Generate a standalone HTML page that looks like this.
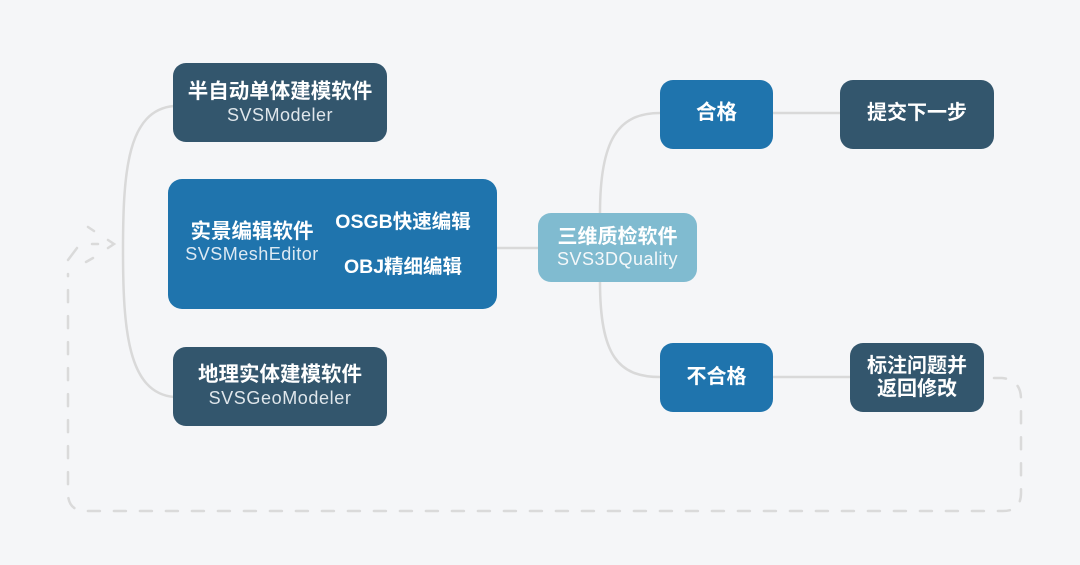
<!DOCTYPE html>
<html><head><meta charset="utf-8"><style>
html,body{margin:0;padding:0;}
body{width:1080px;height:565px;background:#f5f6f8;position:relative;overflow:hidden;font-family:"Liberation Sans","Noto Sans CJK SC",sans-serif;}
svg{position:absolute;left:0;top:0;}
.b{position:absolute;box-sizing:border-box;color:#fff;text-align:center;}
.dk{background:#33566d;border-radius:13px;}
.bl{background:#1f74ad;border-radius:13px;}
.lb{background:#80bbd0;border-radius:13px;}
.t{position:absolute;left:0;right:0;text-align:center;white-space:nowrap;}
.cn{font-family:"Liberation Sans","Noto Sans CJK SC",sans-serif;font-weight:bold;font-size:20.5px;line-height:24px;color:#fff;}
.en{font-size:18px;line-height:22px;color:#dfe6eb;letter-spacing:0.5px;}
</style></head><body>
<svg width="1080" height="565" viewBox="0 0 1080 565">
  <g fill="none" stroke="#d9d9d9" stroke-width="2.5" stroke-linecap="round">
    <path d="M174,106 C128,110 123,170 123,250 C123,330 128,393 174,397"/>
    <path d="M497,248 L538,248"/>
    <path d="M600,213 C600,140 618,113 660,113"/>
    <path d="M600,282 C600,355 618,377 660,377"/>
    <path d="M773,113 L840,113"/>
    <path d="M773,377 L850,377"/>
  </g>
  <g fill="none" stroke="#dadada" stroke-width="2.5" stroke-linecap="round">
    <path d="M994,378 L1002,378 Q1021,380 1021,399 L1021,493 Q1021,511 1003,511 L86,511 Q68,511 68,493 L68,274" stroke-dasharray="12 14"/>
    <path d="M68,260 L77,248"/>
    <path d="M88,227 L94,231"/>
    <path d="M86,262 L93,258"/>
    <path d="M92,244 L98,244"/>
    <path d="M108,240 L114,244 L108,248"/>
  </g>
</svg>

<div class="b dk" style="left:173px;top:63px;width:214px;height:79px;">
  <div class="t cn" style="top:17px;">半自动单体建模软件</div>
  <div class="t en" style="top:41px;">SVSModeler</div>
</div>

<div class="b bl" style="left:168px;top:179px;width:329px;height:130px;border-radius:14px;">
  <div class="t cn" style="left:0;right:auto;width:168px;top:41px;">实景编辑软件</div>
  <div class="t en" style="left:0;right:auto;width:168px;top:64px;color:#dce9f3;">SVSMeshEditor</div>
  <div class="t cn" style="left:160px;right:auto;width:150px;top:31px;font-size:19.5px;">OSGB快速编辑</div>
  <div class="t cn" style="left:160px;right:auto;width:150px;top:76px;font-size:19.5px;">OBJ精细编辑</div>
</div>

<div class="b dk" style="left:173px;top:347px;width:214px;height:79px;">
  <div class="t cn" style="top:16px;">地理实体建模软件</div>
  <div class="t en" style="top:40px;letter-spacing:0.6px;">SVSGeoModeler</div>
</div>

<div class="b lb" style="left:538px;top:213px;width:159px;height:69px;">
  <div class="t cn" style="top:12px;font-size:20px;">三维质检软件</div>
  <div class="t en" style="top:35px;color:#f4f8fa;">SVS3DQuality</div>
</div>

<div class="b bl" style="left:660px;top:80px;width:113px;height:69px;">
  <div class="t cn" style="top:21px;">合格</div>
</div>

<div class="b dk" style="left:840px;top:80px;width:154px;height:69px;">
  <div class="t cn" style="top:21px;font-size:20px;">提交下一步</div>
</div>

<div class="b bl" style="left:660px;top:343px;width:113px;height:69px;">
  <div class="t cn" style="top:22px;font-size:20px;">不合格</div>
</div>

<div class="b dk" style="left:850px;top:343px;width:134px;height:69px;">
  <div class="t cn" style="top:12px;font-size:20px;line-height:23px;">标注问题并</div>
  <div class="t cn" style="top:35px;font-size:20px;line-height:23px;">返回修改</div>
</div>
</body></html>
